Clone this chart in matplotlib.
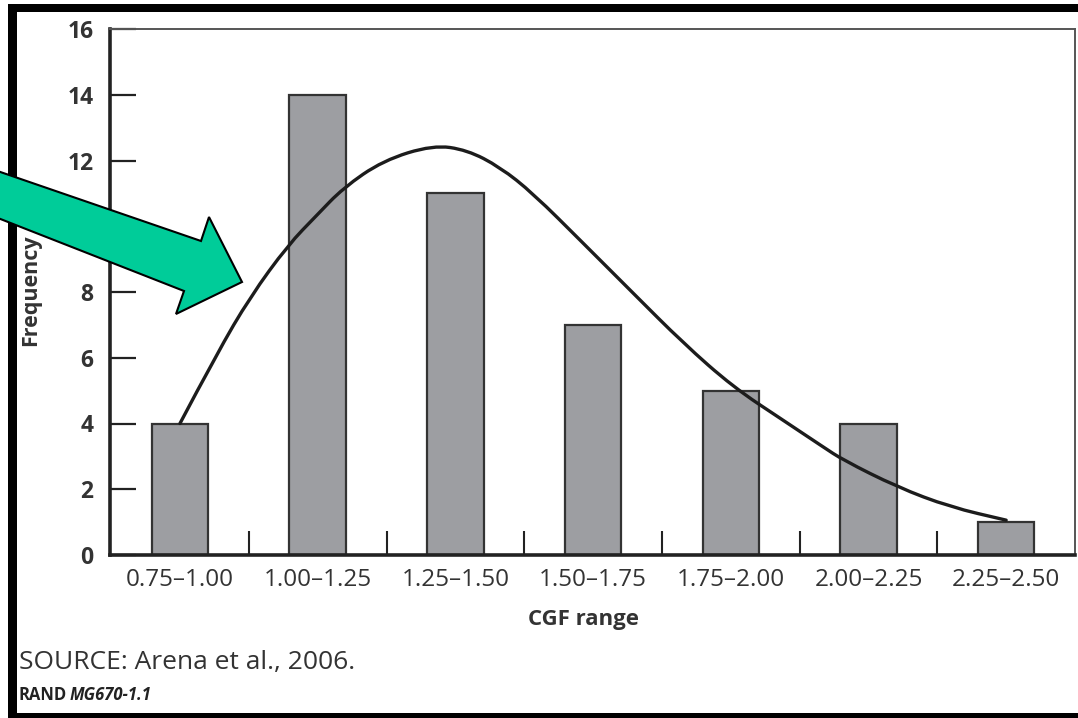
import matplotlib
matplotlib.use("Agg")
import matplotlib.pyplot as plt
from matplotlib.patches import Rectangle, Polygon, PathPatch
from matplotlib.path import Path
from matplotlib.ticker import FixedLocator

# Histogram of CGF ranges
categories = ["0.75\u20131.00", "1.00\u20131.25", "1.25\u20131.50", "1.50\u20131.75",
              "1.75\u20132.00", "2.00\u20132.25", "2.25\u20132.50"]
frequency = [4, 14, 11, 7, 5, 4, 1]

# Fitted distribution curve (x in bin-index units)
curve_x = [0.0, 0.27, 0.51, 0.785, 0.995, 1.184, 1.475, 1.838, 2.085, 2.324,
           2.564, 2.927, 3.29, 3.654, 4.017, 4.38, 4.67, 4.816, 5.208, 5.593, 6.0]
curve_y = [4.0, 6.14, 7.85, 9.43, 10.34, 11.16, 12.0, 12.47, 12.32, 11.8,
           11.0, 9.49, 7.97, 6.45, 5.11, 4.1, 3.29, 2.89, 2.07, 1.46, 1.06]

y_ticks = [0, 2, 4, 6, 8, 10, 12, 14, 16]

W, H = 1078, 718
fig = plt.figure(figsize=(W / 100, H / 100), dpi=100)
fig.patch.set_facecolor("white")

FONT = ["Open Sans", "DejaVu Sans"]
TXT = "#333333"

ax = fig.add_axes([110 / W, 1 - 555 / H, (1075 - 110) / W, (555 - 29) / H])
xs = list(range(len(categories)))
ax.bar(xs, frequency, width=0.41, color="#9d9ea2", edgecolor="#333333",
       linewidth=1.6, zorder=2)

# Smooth quadratic path through the curve's control points
pts = list(zip(curve_x, curve_y))
verts = [pts[0]]
codes = [Path.MOVETO]
for i in range(1, len(pts) - 1):
    mid = ((pts[i][0] + pts[i + 1][0]) / 2, (pts[i][1] + pts[i + 1][1]) / 2)
    verts += [pts[i], mid]
    codes += [Path.CURVE3, Path.CURVE3]
verts.append(pts[-1])
codes.append(Path.LINETO)
ax.add_patch(PathPatch(Path(verts, codes), facecolor="none", edgecolor="#1c1c1c",
                       linewidth=2.4, capstyle="round", joinstyle="round",
                       zorder=3))

ax.set_xlim(-0.508, 6.5)
ax.set_ylim(0, 16)

ax.set_xticks(xs)
ax.set_xticklabels(categories, fontfamily=FONT, fontsize=17.5, color=TXT,
                   fontweight="medium")
ax.xaxis.set_minor_locator(FixedLocator([i + 0.5 for i in range(6)]))
ax.tick_params(axis="x", which="major", length=0, pad=9)
ax.tick_params(axis="x", which="minor", direction="in", length=17,
               width=1.5, color="#222222")

ax.set_yticks(y_ticks)
ax.set_yticklabels([str(v) for v in y_ticks], fontfamily=FONT, fontsize=16.5,
                   fontweight="bold", color=TXT)
ax.tick_params(axis="y", direction="in", length=19, width=1.6,
               color="#222222", pad=12)

for side in ("left", "bottom"):
    ax.spines[side].set_linewidth(2.6)
    ax.spines[side].set_color("#222222")
for side in ("top", "right"):
    ax.spines[side].set_linewidth(1.4)
    ax.spines[side].set_color("#555555")

fig.text(583 / W, 1 - 620 / H, "CGF range", fontfamily=FONT, fontsize=16,
         fontweight="bold", color=TXT, ha="center", va="center")
fig.text(31 / W, 1 - 290 / H, "Frequency", fontfamily=FONT, fontsize=15.5,
         fontweight="bold", color=TXT, ha="center", va="center", rotation=90)
fig.text(19 / W, 1 - 663 / H, "SOURCE: Arena et al., 2006.", fontfamily=FONT,
         fontsize=19, color=TXT, ha="left", va="center")
fig.text(19 / W, 1 - 695 / H, "RAND", fontfamily=FONT, fontsize=12,
         fontweight="bold", color="#222222", ha="left", va="center")
fig.text(70 / W, 1 - 695 / H, "MG670-1.1", fontfamily=FONT, fontsize=12,
         fontweight="bold", fontstyle="italic", color="#222222",
         ha="left", va="center")


def fx(px):
    return px / W


def fy(py):
    return 1 - py / H


# Black page frame
for (x0, y0, x1, y1) in [(8, 4, W + 5, 12), (8, 4, 17, H + 5), (8, 713, W + 5, H + 5)]:
    fig.add_artist(Rectangle((fx(x0), fy(y1)), fx(x1) - fx(x0), fy(y0) - fy(y1),
                             transform=fig.transFigure, facecolor="black",
                             edgecolor="none", zorder=5))

# Green call-out arrow
arrow_px = [(-20, 165), (201, 241), (209, 217), (242, 282), (176, 314),
            (184, 291), (-20, 211)]
fig.add_artist(Polygon([(fx(x), fy(y)) for x, y in arrow_px], closed=True,
                       transform=fig.transFigure, facecolor="#00cc99",
                       edgecolor="black", linewidth=1.5, zorder=10))

fig.savefig("out.png", dpi=100)
